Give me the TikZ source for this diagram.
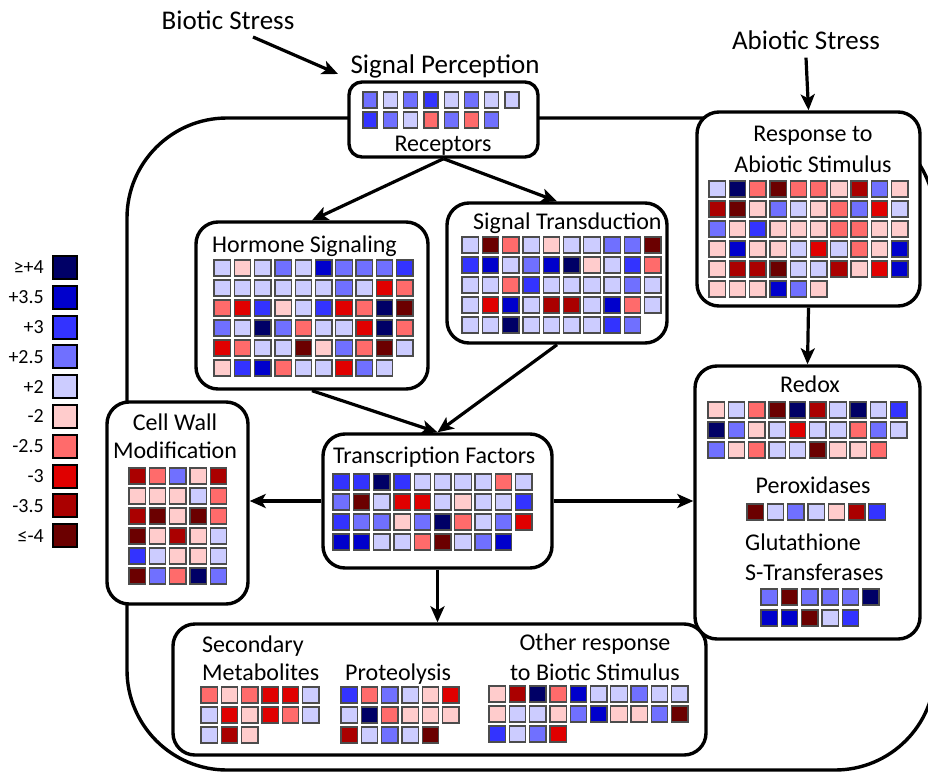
\documentclass[tikz,border=0pt]{standalone}
\usepackage{fontspec}
\setmainfont{Carlito}
\usetikzlibrary{arrows.meta}

% expression colour scale
\definecolor{ca}{HTML}{000066}
\definecolor{cb}{HTML}{0000CC}
\definecolor{cc}{HTML}{3333FF}
\definecolor{cd}{HTML}{7070FF}
\definecolor{ce}{HTML}{CCCCFF}
\definecolor{cf}{HTML}{FFCCCC}
\definecolor{cg}{HTML}{FF6B6B}
\definecolor{ch}{HTML}{E00000}
\definecolor{ci}{HTML}{AA0000}
\definecolor{cj}{HTML}{6B0000}

% grid of coloured cells: [width]{x}{y}{{row},{row},...}
\newcommand{\cellgrid}[4][16.4]{%
  \foreach \row [count=\r from 0] in {#4}
    \foreach \c [count=\k from 0] in \row
      \filldraw[cell,fill=c\c] (#2+\k*20.3,#3+\r*20) rectangle ++(#1,16);}

\begin{document}
\begin{tikzpicture}[x=1pt,y=-1pt,
    box/.style={draw,line width=3.4pt,rounded corners=22pt,fill=white,inner sep=0pt},
    arr/.style={line width=3.2pt,-{Stealth[length=16pt,width=14pt,inset=4pt]}},
    cell/.style={draw=black!70,line width=1.3pt},
    lab/.style={font=\fontsize{24}{24}\selectfont,inner sep=0pt},
    big/.style={font=\fontsize{27}{27}\selectfont,inner sep=0pt},
    leg/.style={font=\fontsize{20}{20}\selectfont,inner sep=0pt,anchor=east}]

    \useasboundingbox (0,0) rectangle (928,773);
    \fill[white] (0,0) rectangle (928,773);

    % cell outline
    \draw[line width=3.4pt,rounded corners=100pt] (127,118) rectangle (935,770);

    % boxes
    \node[box,rounded corners=13pt,minimum width=189pt,minimum height=75pt] (receptors) at (443.5,119.5) {};
    \node[box,minimum width=232pt,minimum height=167pt] (hormone) at (312,305.5) {};
    \node[box,minimum width=220pt,minimum height=140pt] (sigtrans) at (557,273) {};
    \node[box,minimum width=223pt,minimum height=194pt] (abiotic) at (808.5,209) {};
    \node[box,minimum width=225pt,minimum height=273pt] (redox) at (807.5,502.5) {};
    \node[box,minimum width=141pt,minimum height=202pt] (cellwall) at (177.5,503) {};
    \node[box,minimum width=229pt,minimum height=134pt] (tf) at (437.5,501) {};
    \node[box,minimum width=533pt,minimum height=131pt] (bottom) at (439.5,689.5) {};

    % stress labels
    \node[big] (biotic) at (228,20) {Biotic Stress};
    \node[big] (perception) at (445,66) {Signal Perception};
    \node[big] (abstress) at (806,40) {Abiotic Stress};
    \coordinate (bs1) at (253,37);
    \coordinate (bs2) at (338,74);

    % box titles
    \node[lab,anchor=base] (receptorsT) at (443,151) {Receptors};
    \node[lab,anchor=base west] (hormoneT) at (212,252) {Hormone Signaling};
    \node[lab,anchor=base west] (sigtransT) at (473,229) {Signal Transduction};
    \node[lab,anchor=base] (abioticT) at (813,142) {Response to};
    \node[lab,anchor=base] (abioticU) at (813,172) {Abiotic Stimulus};
    \node[lab,anchor=base] (redoxT) at (810,392) {Redox};
    \node[lab,anchor=base] (peroxT) at (813,493) {Peroxidases};
    \node[lab,anchor=base west] (gstT) at (745,550) {Glutathione};
    \node[lab,anchor=base west] (gstU) at (745,580) {S-Transferases};
    \node[lab,anchor=base] (cellwallT) at (175,430) {Cell Wall};
    \node[lab,anchor=base] (cellwallU) at (175,458) {Modification};
    \node[lab,anchor=base west] (tfT) at (333,463) {Transcription Factors};
    \node[lab,anchor=base west] (secT) at (202,652) {Secondary};
    \node[lab,anchor=base west] (secU) at (202,680) {Metabolites};
    \node[lab,anchor=base west] (protT) at (345,680) {Proteolysis};
    \node[lab,anchor=base] (otherT) at (595,650) {Other response};
    \node[lab,anchor=base] (otherU) at (595,680) {to Biotic Stimulus};

    % arrows
    \draw[arr] (bs1) -- (bs2);
    \draw[arr] ([yshift=-8pt]abstress.south) -- (abiotic.north);
    \draw[arr] (receptors.south) -- (hormone.north);
    \draw[arr] (receptors.south) -- (sigtrans.north);
    \draw[arr] (hormone.south) -- (tf.north);
    \draw[arr] (sigtrans.south) -- (tf.north);
    \draw[arr] (abiotic.south) -- (redox.north);
    \draw[arr] (tf.west) -- (tf.west -| cellwall.east);
    \draw[arr] (tf.east) -- (tf.east -| redox.west);
    \draw[arr] (tf.south) -- (tf.south |- bottom.north);

    % cells
    \cellgrid[14]{363}{92}{{d,e,d,c,e,d,e,e},{c,d,e,g,d,g,d}}
    \cellgrid{214}{260}{{e,f,e,d,e,b,d,d,d,c},{e,e,e,e,e,e,d,e,h,g},{g,h,c,f,e,c,h,g,a,j},
      {d,e,a,d,g,e,e,h,a,g},{h,g,e,e,j,f,d,g,j,e},{f,c,b,g,e,e,h,d,e}}
    \cellgrid{462}{237}{{e,j,g,e,f,e,e,d,d,j},{c,b,e,d,b,a,f,e,c,g},{e,e,g,c,e,e,e,e,d,e},
      {e,h,b,e,i,i,e,b,g,e},{e,e,a,e,e,e,e,c,d}}
    \cellgrid{709}{181}{{e,a,g,j,g,g,f,i,d,f},{i,j,f,d,e,f,g,d,h,e},{d,f,c,f,f,f,g,g,f,f},
      {f,b,f,f,e,h,e,g,f,b},{f,i,i,j,e,e,i,f,h,b},{f,f,f,b,d,f}}
    \cellgrid{708}{402}{{f,e,g,j,a,i,e,a,e,c},{a,d,f,e,h,e,e,g,d,e},{d,f,g,e,e,j,f,f,g}}
    \cellgrid{747}{504}{{j,e,d,e,f,i,c}}
    \cellgrid{761}{589}{{d,j,d,d,d,a}}
    \cellgrid{761}{610}{{b,b,j,e,c}}
    \cellgrid{129}{468}{{i,g,d,f,i},{f,f,f,e,g},{i,j,f,j,g},{j,f,i,f,e},{c,e,f,f,e},{j,d,g,a,d}}
    \cellgrid{333}{474}{{c,c,a,c,e,e,e,e,g,e},{d,j,e,h,h,e,f,e,e,c},{c,d,d,f,d,a,g,e,d,h},
      {b,b,e,e,g,j,e,d,b}}
    \cellgrid{201}{687}{{g,f,g,h,h,e},{e,h,f,h,g,e},{e,i,f}}
    \cellgrid{341}{687}{{c,g,d,e,f,h},{e,a,g,f,f,f},{i,e,d,e,j}}
    \cellgrid{489}{686}{{f,i,a,g,b,e,e,d,e,e},{f,e,e,f,d,b,f,f,d,j},{c,e,d,h}}

    % legend
    \foreach \c/\t [count=\k from 0] in {a/{≥+4},b/{+3.5},c/{+3},d/{+2.5},e/{+2},
        f/{-2},g/{-2.5},h/{-3},i/{-3.5},j/{≤-4}} {
      \node[leg] (leg\k) at (44,267.5+\k*29.8) {\t};
      \filldraw[line width=2pt,fill=c\c] (53,256+\k*29.8) rectangle ++(24,23);
    }

\end{tikzpicture}
\end{document}
